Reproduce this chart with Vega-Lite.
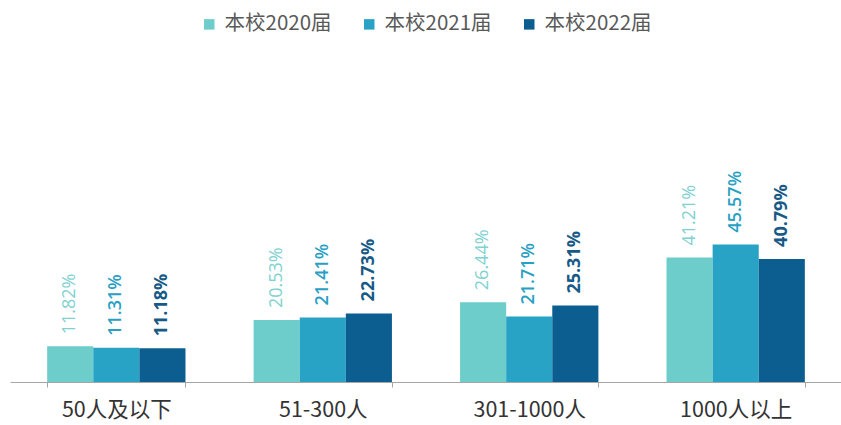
{
  "$schema": "https://vega.github.io/schema/vega-lite/v6.json",
  "autosize": "none",
  "width": 832,
  "height": 332,
  "padding": {"left": 10, "top": 50, "right": 0, "bottom": 43},
  "background": "white",
  "config": {"view": {"stroke": null}, "font": "Noto Sans CJK SC"},
  "data": {"values": [
    {"cat": "50人及以下", "series": "本校2020届", "value": 11.82, "label": "11.82%"},
    {"cat": "50人及以下", "series": "本校2021届", "value": 11.31, "label": "11.31%"},
    {"cat": "50人及以下", "series": "本校2022届", "value": 11.18, "label": "11.18%"},
    {"cat": "51-300人", "series": "本校2020届", "value": 20.53, "label": "20.53%"},
    {"cat": "51-300人", "series": "本校2021届", "value": 21.41, "label": "21.41%"},
    {"cat": "51-300人", "series": "本校2022届", "value": 22.73, "label": "22.73%"},
    {"cat": "301-1000人", "series": "本校2020届", "value": 26.44, "label": "26.44%"},
    {"cat": "301-1000人", "series": "本校2021届", "value": 21.71, "label": "21.71%"},
    {"cat": "301-1000人", "series": "本校2022届", "value": 25.31, "label": "25.31%"},
    {"cat": "1000人以上", "series": "本校2020届", "value": 41.21, "label": "41.21%"},
    {"cat": "1000人以上", "series": "本校2021届", "value": 45.57, "label": "45.57%"},
    {"cat": "1000人以上", "series": "本校2022届", "value": 40.79, "label": "40.79%"}
  ]},
  "encoding": {
    "x": {
      "field": "cat", "type": "nominal", "sort": null,
      "scale": {"paddingInner": 0.33, "paddingOuter": 0.18},
      "axis": {
        "title": null, "labelAngle": 0, "labelFontSize": 21.5, "labelColor": "#333333",
        "labelPadding": 12, "domainColor": "#a6a6a6", "tickColor": "#a6a6a6",
        "tickBand": "extent", "tickOffset": -35, "tickSize": 5, "labelFont": "Noto Sans CJK SC"
      }
    },
    "xOffset": {"field": "series", "type": "nominal", "sort": null, "scale": {"paddingInner": 0}},
    "y": {"field": "value", "type": "quantitative", "scale": {"domain": [0, 110]}, "axis": null}
  },
  "layer": [
    {
      "mark": {"type": "bar"},
      "encoding": {
        "color": {
          "field": "series", "type": "nominal", "sort": null,
          "scale": {"domain": ["本校2020届", "本校2021届", "本校2022届"], "range": ["#6dcdcb", "#29a3c5", "#0b5e8f"]},
          "legend": {
            "title": null, "orient": "none", "direction": "horizontal",
            "legendX": 189, "legendY": -36, "symbolType": "square", "symbolSize": 110,
            "labelFontSize": 20.5, "labelColor": "#595959", "labelFont": "Noto Sans CJK SC",
            "columnPadding": 27, "labelOffset": 5, "labelLimit": 200
          }
        }
      }
    },
    {
      "transform": [{"filter": "datum.series === '本校2020届'"}],
      "mark": {"type": "text", "angle": 270, "align": "left", "baseline": "middle", "dx": 12, "fontSize": 18, "font": "Open Sans", "color": "#80d2d0"},
      "encoding": {"text": {"field": "label"}}
    },
    {
      "transform": [{"filter": "datum.series === '本校2021届'"}],
      "mark": {"type": "text", "angle": 270, "align": "left", "baseline": "middle", "dx": 12, "fontSize": 18, "font": "Open Sans", "fontWeight": 600, "color": "#2a9fc4"},
      "encoding": {"text": {"field": "label"}}
    },
    {
      "transform": [{"filter": "datum.series === '本校2022届'"}],
      "mark": {"type": "text", "angle": 270, "align": "left", "baseline": "middle", "dx": 12, "fontSize": 18, "font": "Open Sans", "fontWeight": "bold", "color": "#175a86"},
      "encoding": {"text": {"field": "label"}}
    }
  ]
}
